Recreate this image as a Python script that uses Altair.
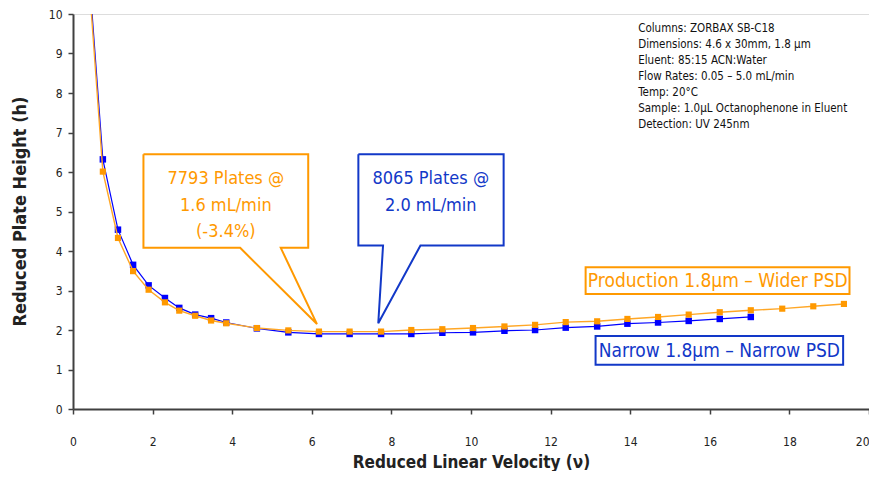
import altair as alt
import pandas as pd

# ---- data ----
x_narrow = [0.37, 0.75, 1.13, 1.51, 1.90, 2.31, 2.67, 3.07, 3.47, 3.85, 4.62, 5.41,
            6.18, 6.95, 7.74, 8.50, 9.28, 10.05, 10.84, 11.61, 12.38, 13.17, 13.93,
            14.70, 15.47, 16.25, 17.03]
h_narrow = [11.5, 6.32, 4.54, 3.65, 3.13, 2.81, 2.56, 2.39, 2.30, 2.19, 2.04, 1.94,
            1.90, 1.90, 1.90, 1.90, 1.93, 1.94, 1.98, 2.00, 2.06, 2.09, 2.16,
            2.19, 2.23, 2.28, 2.33]
x_prod = [0.37, 0.75, 1.13, 1.51, 1.90, 2.31, 2.67, 3.07, 3.47, 3.85, 4.62, 5.41,
          6.18, 6.95, 7.74, 8.50, 9.28, 10.05, 10.84, 11.61, 12.38, 13.17, 13.93,
          14.70, 15.47, 16.25, 17.03, 17.82, 18.60, 19.37]
h_prod = [11.3, 6.01, 4.33, 3.49, 3.02, 2.70, 2.49, 2.36, 2.24, 2.17, 2.05, 1.99,
          1.96, 1.96, 1.96, 2.00, 2.02, 2.05, 2.09, 2.13, 2.20, 2.22, 2.28,
          2.33, 2.39, 2.45, 2.50, 2.54, 2.60, 2.66]

x_ticks = [0, 2, 4, 6, 8, 10, 12, 14, 16, 18, 20]
y_ticks = [0, 1, 2, 3, 4, 5, 6, 7, 8, 9, 10]

info_lines = [
    "Columns: ZORBAX SB-C18",
    "Dimensions: 4.6 x 30mm, 1.8 \u00b5m",
    "Eluent: 85:15 ACN:Water",
    "Flow Rates: 0.05 \u2013 5.0 mL/min",
    "Temp: 20\u00b0C",
    "Sample: 1.0\u00b5L Octanophenone in Eluent",
    "Detection:  UV 245nm",
]

prod_callout_lines = ["7793 Plates @", "1.6 mL/min", "(-3.4%)"]
narrow_callout_lines = ["8065 Plates @", "2.0 mL/min"]
prod_label = "Production 1.8\u00b5m \u2013 Wider PSD"
narrow_label = "Narrow 1.8\u00b5m \u2013 Narrow PSD"

# callout outlines in data coordinates
prod_call_x = [1.77, 5.91, 5.91, 5.22, 6.13, 4.20, 1.77, 1.77]
prod_call_y = [6.45, 6.45, 4.08, 4.08, 2.15, 4.08, 4.08, 6.45]
narr_call_x = [7.17, 10.82, 10.82, 8.73, 7.67, 7.79, 7.17, 7.17]
narr_call_y = [6.45, 6.45, 4.14, 4.14, 2.17, 4.14, 4.14, 6.45]

ORANGE = "#FF9900"
BLUE = "#0000FF"
DBLUE = "#1238C8"
FONT = "Liberation Sans Narrow, DejaVu Sans Condensed, Roboto, sans-serif"

df_n = pd.DataFrame({"v": x_narrow, "h": h_narrow})
df_p = pd.DataFrame({"v": x_prod, "h": h_prod})

xs = alt.Scale(domain=[0, 20], nice=False, zero=False)
ys = alt.Scale(domain=[0, 10], nice=False, zero=False)

xax = alt.Axis(values=x_ticks, title="Reduced Linear Velocity (\u03bd)", grid=False,
               tickSize=5, labelPadding=22, labelFlush=False,
               labelAlign=alt.condition("datum.value == 20", alt.value("right"), alt.value("center")),
               domainColor="#404040",
               domainWidth=2, tickColor="#404040", tickWidth=1.5, labelFont=FONT,
               labelFontSize=12, labelColor="#222", titleFont=FONT, titleFontSize=17,
               titleFontWeight="bold", titleColor="#222", titleY=53, titleBaseline="middle")
yax = alt.Axis(values=y_ticks, title="Reduced Plate Height (h)", grid=False,
               tickSize=5, labelPadding=6, labelFlush=False, domainColor="#404040",
               domainWidth=2, tickColor="#404040", tickWidth=1.5, labelFont=FONT,
               labelFontSize=12, labelColor="#222", titleFont=FONT, titleFontSize=18,
               titleFontWeight="bold", titleColor="#222", titleX=-53, titleY=197,
               titleAngle=-90, titleAlign="center", titleBaseline="middle")

X = alt.X("v:Q", scale=xs, axis=xax)
Y = alt.Y("h:Q", scale=ys, axis=yax)

line_n = alt.Chart(df_n).mark_line(color=BLUE, strokeWidth=1.2, clip=True).encode(x=X, y=Y)
pts_n = alt.Chart(df_n).mark_square(color=BLUE, size=42, opacity=1, clip=True).encode(x=X, y=Y)
line_p = alt.Chart(df_p).mark_line(color="#FFA726", strokeWidth=1.4, clip=True).encode(x=X, y=Y)
pts_p = alt.Chart(df_p).mark_square(color=ORANGE, size=38, opacity=1, clip=True).encode(x=X, y=Y)

def outline(xv, yv, color):
    d = pd.DataFrame({"v": xv, "h": yv, "o": list(range(len(xv)))})
    return alt.Chart(d).mark_line(color=color, strokeWidth=2, strokeJoin="miter").encode(
        x=X, y=Y, order="o:Q")

call_p = outline(prod_call_x, prod_call_y, ORANGE)
call_n = outline(narr_call_x, narr_call_y, DBLUE)

def textblock(lines, x, y0, dy, color, size, align="center", weight="normal"):
    d = pd.DataFrame({"t": lines, "v": [x] * len(lines),
                      "h": [y0 - i * dy for i in range(len(lines))]})
    return alt.Chart(d).mark_text(color=color, fontSize=size, font=FONT, align=align,
                                  baseline="middle", fontWeight=weight).encode(
        x=X, y=Y, text="t:N")

txt_p = textblock(prod_callout_lines, 3.84, 5.82, 0.67, ORANGE, 18)
txt_n = textblock(narrow_callout_lines, 8.99, 5.82, 0.67, DBLUE, 18)

def box(x1, x2, y1, y2, color):
    d = pd.DataFrame({"v": [x1], "v2": [x2], "h": [y1], "h2": [y2]})
    return alt.Chart(d).mark_rect(fill="white", stroke=color, strokeWidth=2).encode(
        x=X, x2="v2:Q", y=Y, y2="h2:Q")

box_p = box(12.88, 19.51, 2.91, 3.59, ORANGE)
box_n = box(13.13, 19.35, 1.12, 1.85, DBLUE)
lab_p = textblock([prod_label], 16.2, 3.25, 0, ORANGE, 19)
lab_n = textblock([narrow_label], 16.24, 1.48, 0, DBLUE, 19)

info = textblock(info_lines, 14.2, 9.62, 0.406, "#111", 11.5, align="left")

chart = alt.layer(line_n, pts_n, line_p, pts_p, call_p, call_n, txt_p, txt_n,
                  box_p, box_n, lab_p, lab_n, info).properties(
    width=796, height=395,
    autosize=alt.AutoSizeParams(type="none"),
    padding={"left": 65, "top": 6, "right": 0, "bottom": 62},
).configure_view(stroke="#909090", strokeWidth=1.5).configure(background="white")

chart.save("out.html", embed_options={"renderer": "svg", "actions": False})
